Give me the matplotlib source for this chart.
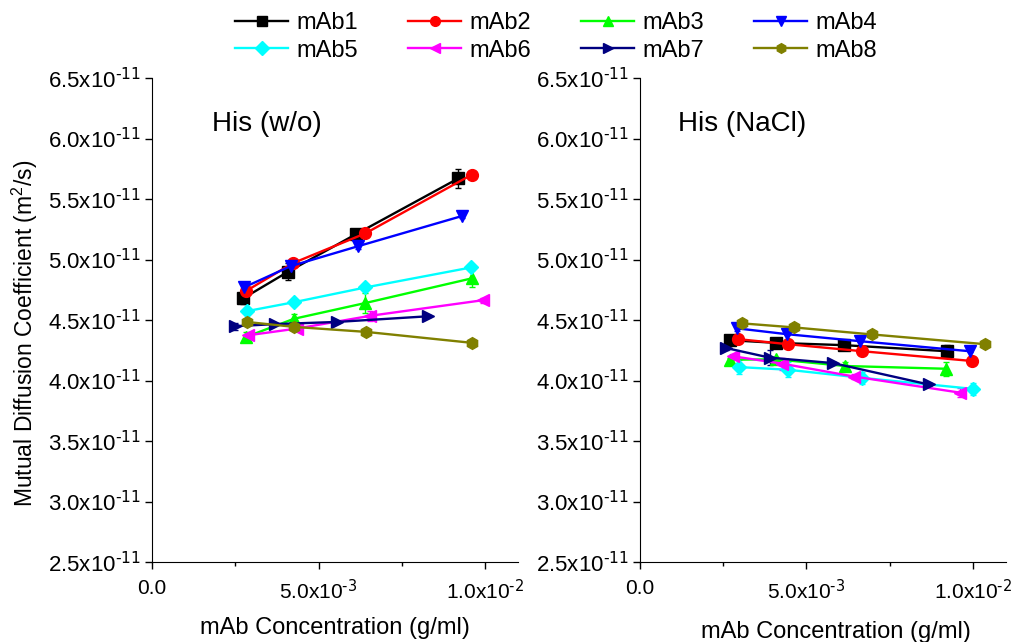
import matplotlib as mpl; mpl.use('agg')
import matplotlib.pyplot as plt
from matplotlib.lines import Line2D
from matplotlib.ticker import FixedLocator, MultipleLocator, FuncFormatter

plt.rcParams['font.family'] = ['Liberation Sans', 'DejaVu Sans']
plt.rcParams['mathtext.default'] = 'regular'

names = ['mAb1', 'mAb2', 'mAb3', 'mAb4', 'mAb5', 'mAb6', 'mAb7', 'mAb8']
colors = ['black', 'red', '#00FF00', 'blue', 'cyan', 'magenta', '#000080', '#808000']
markers = ['s', 'o', '^', 'v', 'D', '<', '>', 'h']

# concentrations in 1e-3 g/ml, diffusion coefficients in 1e-11 m^2/s
# His (w/o)
x_wo = [[2.74, 4.09, 6.13, 9.20],
        [2.82, 4.23, 6.40, 9.60],
        [2.82, 4.26, 6.40, 9.62],
        [2.76, 4.16, 6.19, 9.32],
        [2.84, 4.26, 6.41, 9.58],
        [2.89, 4.34, 6.56, 9.95],
        [2.49, 3.69, 5.55, 8.30],
        [2.84, 4.27, 6.42, 9.62]]
d_wo = [[4.68, 4.90, 5.21, 5.67],
        [4.74, 4.97, 5.215, 5.70],
        [4.36, 4.51, 4.64, 4.845],
        [4.77, 4.945, 5.11, 5.36],
        [4.573, 4.647, 4.769, 4.934],
        [4.374, 4.429, 4.535, 4.664],
        [4.449, 4.466, 4.484, 4.531],
        [4.484, 4.443, 4.402, 4.311]]
e_wo = [[0.05, 0.07, 0.02, 0.08],
        [0.02, 0.02, 0.02, 0.02],
        [0.04, 0.04, 0.08, 0.07],
        [0.03, 0.02, 0.02, 0.02],
        [0.02, 0.02, 0.03, 0.03],
        [0.02, 0.02, 0.04, 0.02],
        [0.03, 0.01, 0.01, 0.01],
        [0.01, 0.01, 0.01, 0.01]]

# His (NaCl)
x_nacl = [[2.72, 4.10, 6.14, 9.23],
          [2.95, 4.45, 6.68, 9.99],
          [2.70, 4.10, 6.16, 9.21],
          [2.92, 4.41, 6.61, 9.91],
          [2.98, 4.45, 6.68, 10.00],
          [2.80, 4.28, 6.43, 9.61],
          [2.58, 3.90, 5.80, 8.68],
          [3.08, 4.62, 6.96, 10.38]]
d_nacl = [[4.333, 4.311, 4.292, 4.242],
          [4.342, 4.300, 4.242, 4.161],
          [4.172, 4.175, 4.12, 4.097],
          [4.431, 4.383, 4.325, 4.242],
          [4.111, 4.089, 4.022, 3.931],
          [4.200, 4.139, 4.033, 3.900],
          [4.269, 4.189, 4.144, 3.967],
          [4.472, 4.439, 4.381, 4.300]]
e_nacl = [[0.01, 0.01, 0.01, 0.05],
          [0.01, 0.01, 0.03, 0.01],
          [0.01, 0.02, 0.03, 0.06],
          [0.02, 0.01, 0.01, 0.01],
          [0.06, 0.06, 0.05, 0.05],
          [0.02, 0.05, 0.02, 0.04],
          [0.02, 0.06, 0.01, 0.01],
          [0.01, 0.01, 0.01, 0.01]]

panel_titles = ['His (w/o)', 'His (NaCl)']

y_ticks = [2.5, 3.0, 3.5, 4.0, 4.5, 5.0, 5.5, 6.0, 6.5]


def fmt_y(v, pos):
    return f"{v:.1f}x10$^{{\\text{{-11}}}}$"


def fmt_x(v, pos):
    if abs(v) < 1e-9:
        return "0.0"
    if abs(v - 5) < 1e-6:
        return "5.0x10$^{\\text{-3}}$"
    if abs(v - 10) < 1e-6:
        return "1.0x10$^{\\text{-2}}$"
    return ""


fig = plt.figure(figsize=(10.15, 6.42), dpi=100)
ax1 = fig.add_axes([0.150, 0.1246, 0.3605, 0.7539])
ax2 = fig.add_axes([0.6305, 0.1246, 0.3606, 0.7539])

for ax, xs, ds, es, title, tx in [(ax1, x_wo, d_wo, e_wo, panel_titles[0], 0.162),
                                  (ax2, x_nacl, d_nacl, e_nacl, panel_titles[1], 0.104)]:
    for i in range(len(names)):
        ms = 7.5 if markers[i] == 'D' else 8.5
        ax.errorbar(xs[i], ds[i], yerr=es[i], color=colors[i], marker=markers[i],
                    markersize=ms, linewidth=1.7, elinewidth=1.0, capsize=2.5,
                    capthick=1.0)
    ax.set_xlim(0, 11.0)
    ax.set_ylim(2.5, 6.5)
    ax.spines['top'].set_visible(False)
    ax.spines['right'].set_visible(False)
    ax.yaxis.set_major_locator(FixedLocator(y_ticks))
    ax.yaxis.set_major_formatter(FuncFormatter(fmt_y))
    ax.xaxis.set_major_locator(FixedLocator([0, 5, 10]))
    ax.xaxis.set_minor_locator(MultipleLocator(2.5))
    ax.xaxis.set_major_formatter(FuncFormatter(fmt_x))
    ax.tick_params(axis='both', which='major', length=5, width=1)
    ax.tick_params(axis='y', labelsize=16, pad=3)
    ax.tick_params(axis='x', labelsize=15, pad=7)
    ax.tick_params(axis='x', which='minor', length=3, width=1)
    ax.text(tx, 0.905, title, transform=ax.transAxes, fontsize=20, va='center')
    ax.set_xlabel('mAb Concentration (g/ml)', fontsize=17, va='top')

ax1.xaxis.set_label_coords(0.5, -0.113)
ax2.xaxis.set_label_coords(0.536, -0.121)
ax1.set_ylabel('Mutual Diffusion Coefficient (m$^2$/s)', fontsize=16.5)
ax1.yaxis.set_label_coords(-0.307, 0.473)

handles = [Line2D([], [], color=colors[i], marker=markers[i], markersize=7,
                  linewidth=1.7) for i in range(len(names))]
order = [0, 4, 1, 5, 2, 6, 3, 7]
fig.legend([handles[k] for k in order], [names[k] for k in order],
           loc='upper center', bbox_to_anchor=(0.548, 1.0),
           ncol=4, frameon=False, fontsize=17, columnspacing=2.1,
           handlelength=2.25, handletextpad=0.36, labelspacing=0.25,
           borderaxespad=0.1)

fig.savefig('out.png', dpi=100)
